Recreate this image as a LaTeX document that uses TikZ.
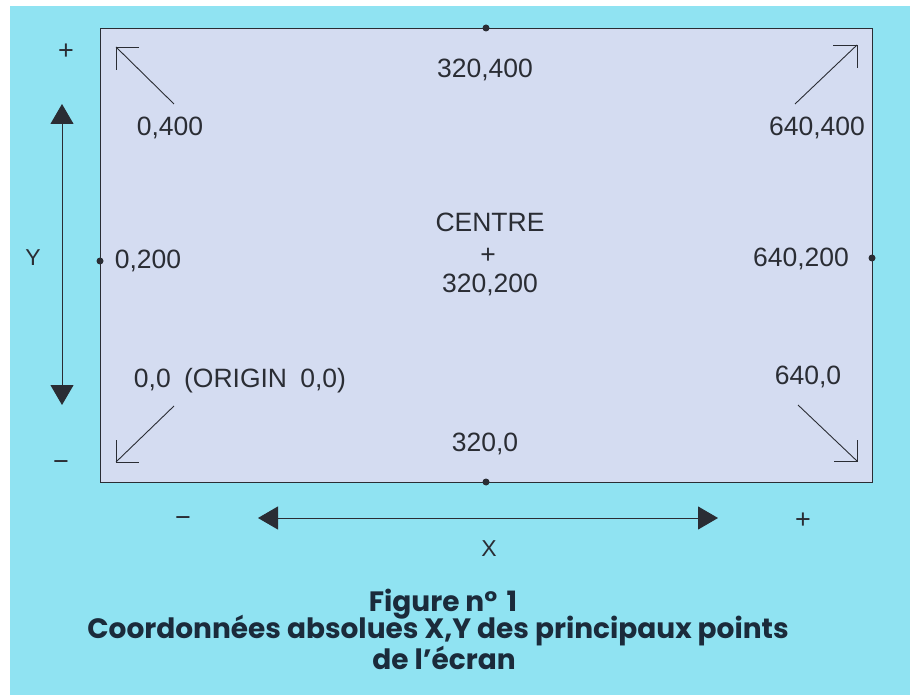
\documentclass[tikz,border=0pt]{standalone}
\usepackage{fontspec}
\setmainfont{Liberation Sans}
\newfontfamily\capfont{Poppins}[BoldFont={* Bold}]
\usetikzlibrary{arrows.meta,calc}
\definecolor{bgcyan}{HTML}{90E3F2}
\definecolor{scr}{HTML}{D4DCF1}
\definecolor{ink}{HTML}{2A2D34}
\definecolor{capink}{HTML}{1B2B3B}
\tikzset{
  lbl/.style={inner sep=0pt, text=ink, font=\fontsize{26.5}{30}\selectfont},
  axlbl/.style={inner sep=0pt, text=ink, font=\fontsize{23}{26}\selectfont},
  sgn/.style={inner sep=0pt, text=ink, font=\fontsize{27}{30}\selectfont},
  captext/.style={inner sep=0pt, text=capink, font=\capfont\bfseries\fontsize{28}{32}\selectfont},
  thin line/.style={draw=ink, line width=0.9pt},
  axis/.style={draw=ink, line width=1pt, {Triangle[width=23pt,length=20pt]}-{Triangle[width=23pt,length=20pt]}},
  dotmark/.style={circle, fill=ink, inner sep=0pt, minimum size=7pt}
}
\begin{document}
\begin{tikzpicture}[x=1pt,y=-1pt]
\useasboundingbox (0,0) rectangle (916,695);
\fill[white] (0,0) rectangle (916,695);
\fill[bgcyan] (10,6) rectangle (910,695);
% screen rectangle
\draw[fill=scr, draw=ink, line width=0.9pt] (100,28) rectangle (872,482);
% edge dots
\node[dotmark] (dtop) at (486,28) {};
\node[dotmark] (dbot) at (486,482) {};
\node[dotmark] (dleft) at (100,261) {};
\node[dotmark] (dright) at (872,258) {};
% labels
\node[lbl] (l0400) at (170,128) {0,400};
\node[lbl] (l320400) at (485,70) {320,400};
\node[lbl] (l640400) at (817,128) {640,400};
\node[lbl] (l0200) at (148,261) {0,200};
\node[lbl] (l640200) at (801,259) {640,200};
\node[lbl] (lcentre) at (490,222) {CENTRE};
\node[lbl] (lplus) at (488,256) {+};
\node[lbl] (l320200) at (490,285) {320,200};
\node[lbl] (l00) at (240,381) {0,0\hspace{0.5em}(ORIGIN\hspace{0.5em}0,0)};
\node[lbl] (l6400) at (808,377) {640,0};
\node[lbl] (l3200) at (485,444) {320,0};
% corner arrows
\coordinate (tlA) at (174,104); \coordinate (tlB) at (116,47);
\draw[thin line] (tlA) -- (tlB);
\draw[thin line] ($(tlB)+(23,0)$) -- (tlB) -- ($(tlB)+(0,23)$);
\coordinate (trA) at (795,104); \coordinate (trB) at (857,45);
\draw[thin line] (trA) -- (trB);
\draw[thin line] ($(trB)+(-24,0)$) -- (trB) -- ($(trB)+(0,23)$);
\coordinate (blA) at (174,406); \coordinate (blB) at (116,462);
\draw[thin line] (blA) -- (blB);
\draw[thin line] ($(blB)+(0,-22)$) -- (blB) -- ($(blB)+(23,0)$);
\coordinate (brA) at (798,405); \coordinate (brB) at (857,461);
\draw[thin line] (brA) -- (brB);
\draw[thin line] ($(brB)+(0,-21)$) -- (brB) -- ($(brB)+(-23,0)$);
% Y axis
\coordinate (ytop) at (62,104);
\coordinate (ybot) at (62,405);
\draw[axis] (ybot) -- (ytop);
\node[sgn] (yplus) at (66,52) {+};
\node[sgn] (yminus) at (61,466) {−};
\node[axlbl] (ylab) at (33,258) {Y};
% X axis
\coordinate (xleft) at (258,518);
\coordinate (xright) at (718,518);
\draw[axis] (xleft) -- (xright);
\node[sgn] (xminus) at (183,522) {−};
\node[sgn] (xplus) at (803,521) {+};
\node[axlbl] (xlab) at (489,549) {X};
% caption
\node[captext] (c1) at (443,604) {Figure n°\,\,1};
\node[captext] (c2) at (438,631) {Coordonnées absolues X,Y des principaux points};
\node[captext] (c3) at (444,658) {de l’écran};
\end{tikzpicture}
\end{document}
